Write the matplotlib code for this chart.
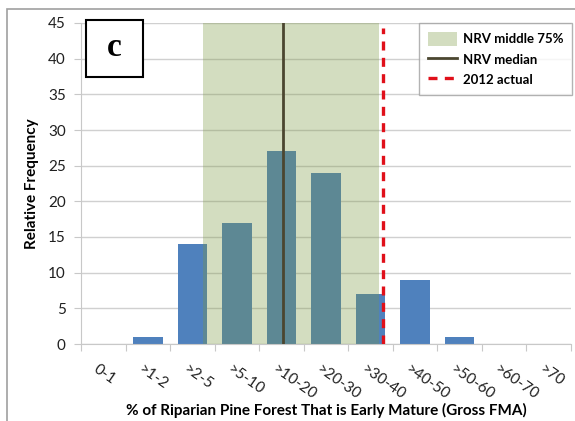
import matplotlib
matplotlib.use("Agg")
import matplotlib.pyplot as plt
from matplotlib.patches import Patch, Rectangle
from matplotlib.lines import Line2D
import numpy as np

categories = ["0-1", ">1-2", ">2-5", ">5-10", ">10-20", ">20-30", ">30-40",
              ">40-50", ">50-60", ">60-70", ">70"]
frequency = [0, 1, 14, 17, 27, 24, 7, 9, 1, 0, 0]
nrv_range = (2.24, 6.19)      # middle 75% in category-axis units
nrv_median = 4.03
actual_2012 = 6.28
yticks = [0, 5, 10, 15, 20, 25, 30, 35, 40, 45]

plt.rcParams['font.family'] = ['Lato', 'DejaVu Sans']

fig = plt.figure(figsize=(5.75, 4.21), dpi=100)
ax = fig.add_axes([81/575, 1-344/421, (571-81)/575, (344-23)/421])

x = np.arange(len(categories))
ax.bar(x, frequency, width=0.66, color='#4F81BD', zorder=2)
ax.axvspan(nrv_range[0], nrv_range[1], color=(124/255, 153/255, 67/255),
           alpha=0.335, lw=0, zorder=3)
ax.axvline(nrv_median, color='#4B4630', lw=2, zorder=4)
ax.axvline(actual_2012, ymax=0.985, color='#E0101A', lw=2.4,
           dashes=(2.7, 2.2), zorder=4)

ax.set_xlim(-0.5, len(categories) - 0.5)
ax.set_ylim(0, 45)
ax.set_yticks(yticks)
ax.yaxis.grid(True, color='#D0D0D0', lw=1, zorder=0)
ax.set_axisbelow(True)
for s in ['top', 'right']:
    ax.spines[s].set_visible(False)
for s in ['left', 'bottom']:
    ax.spines[s].set_color('#C8C8C8')
ax.tick_params(axis='y', direction='out', length=5, color='#C8C8C8',
               labelsize=11, pad=6, labelcolor='#202020')
ax.set_xticks(np.arange(-0.5, len(categories)), minor=False)
ax.set_xticklabels([])
ax.tick_params(axis='x', direction='out', length=5, color='#C8C8C8')
for i, c in enumerate(categories):
    ax.annotate(c, xy=(i, 0), xycoords=('data', 'axes fraction'),
                xytext=(-3, -13), textcoords='offset points',
                rotation=-35, rotation_mode='anchor', ha='left', va='top',
                fontsize=11, color='#202020')

ax.set_ylabel("Relative Frequency", fontsize=11, fontweight='bold')
ax.yaxis.set_label_coords(-0.085, 0.5)
fig.text((81+571)/2/575, 1-410/421,
         "% of Riparian Pine Forest That is Early Mature (Gross FMA)",
         ha='center', va='center', fontsize=11, fontweight='bold')

# "c" panel box
ax.add_patch(Rectangle((86/575, 1-77/421), 57/575, 57/421, transform=fig.transFigure,
                       fill=True, facecolor='white', edgecolor='black', lw=1.5,
                       zorder=5, clip_on=False))
fig.text(114.5/575, 1-48/421, "c", ha='center', va='center', fontsize=24,
         fontweight='bold', family='Liberation Serif', zorder=6)

handles = [Patch(facecolor=(211/255, 221/255, 192/255), edgecolor='none'),
           Line2D([], [], color='#4B4630', lw=2),
           Line2D([], [], color='#E0101A', lw=2.4, dashes=(2.7, 2.2))]
leg = fig.legend(handles, ["NRV middle 75%", "NRV median", "2012 actual"],
                 loc='upper right', bbox_to_anchor=(572/575, 1-23/421),
                 fontsize=9.5, frameon=True, fancybox=False, edgecolor='#A0A0A0',
                 handlelength=2.2, handleheight=1.3, borderpad=0.65,
                 labelspacing=0.45, handletextpad=0.45, borderaxespad=0)
leg.get_frame().set_linewidth(1)
for t in leg.get_texts():
    t.set_fontweight('bold')
leg.set_zorder(7)

# outer frame
fig.patches.append(Rectangle((7/575, -0.01), 1.0, 1-9/421 + 0.01, transform=fig.transFigure,
                             fill=False, edgecolor='#A0A0A0', lw=1.2))

fig.savefig("out.png", dpi=100)
